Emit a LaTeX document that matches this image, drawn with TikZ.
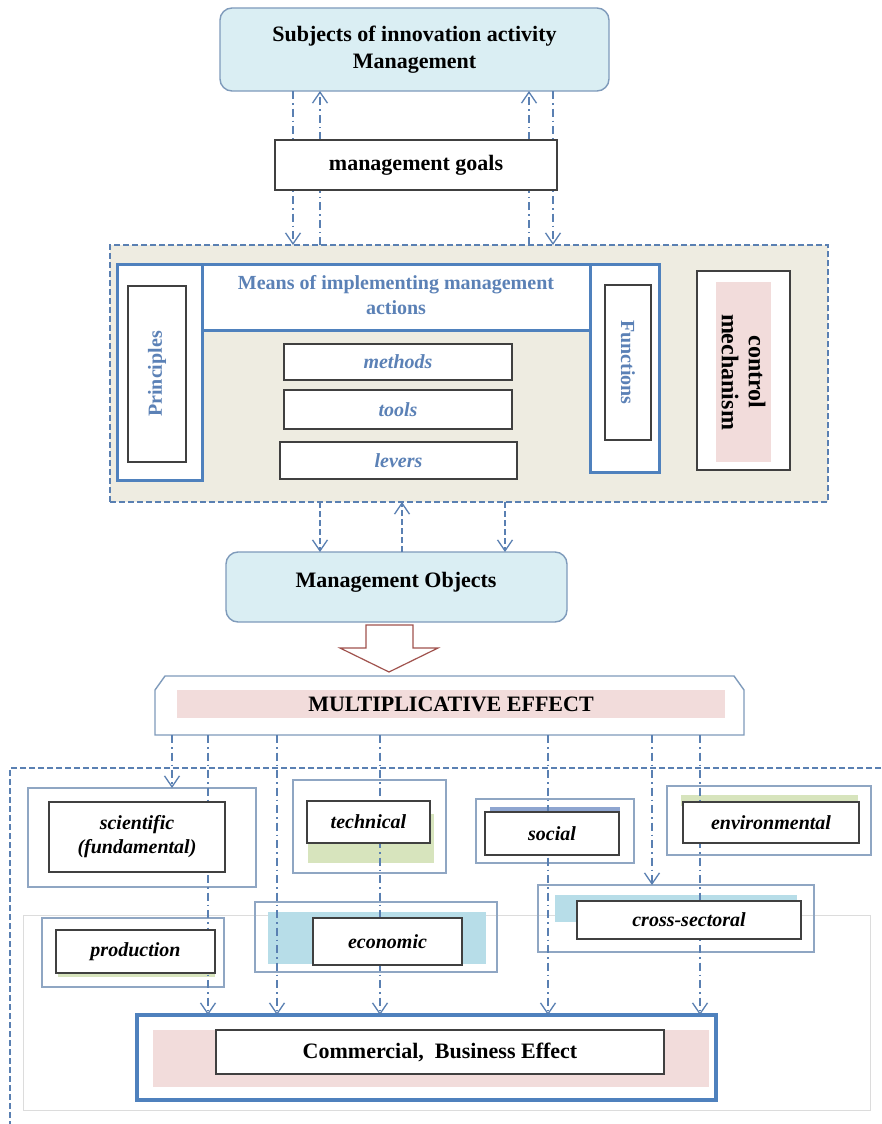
\documentclass[tikz,border=0pt]{standalone}
\usepackage{fontspec}
\setmainfont{Liberation Serif}
\usetikzlibrary{arrows.meta,calc}
\definecolor{arr}{HTML}{5A80B2}
\definecolor{thickblue}{HTML}{4F81BD}
\definecolor{framegray}{HTML}{8FA6C3}
\definecolor{innerk}{HTML}{404040}
\definecolor{lbfill}{HTML}{DAEEF3}
\definecolor{lbdraw}{HTML}{7F9BBB}
\definecolor{beige}{HTML}{EEECE1}
\definecolor{pinkf}{HTML}{F2DCDB}
\definecolor{greenf}{HTML}{D7E4BD}
\definecolor{bluebg}{HTML}{B7DDE8}
\definecolor{txtblue}{HTML}{5B81B6}
\definecolor{socstrip}{HTML}{8EA5D0}
\definecolor{brownred}{HTML}{A0524D}
\definecolor{lgray}{HTML}{DCDCDC}
\newcommand\rbox[7][]{\node[inner sep=0pt,outer sep=0pt,minimum width={#5pt-#3pt},minimum height={#6pt-#4pt},#1] (#2) at ({(#3+#5)/2},{(#4+#6)/2}) {#7};}
\begin{document}
\begin{tikzpicture}[x=1pt,y=-1pt,
  roundbox/.style={draw=lbdraw,line width=1.4pt,fill=lbfill,rounded corners=12pt},
  thickbox/.style={draw=thickblue,line width=3pt,fill=white},
  thinframe/.style={draw=framegray,line width=1.4pt},
  innerbox/.style={draw=innerk,line width=1.2pt,fill=white},
  dd/.style={draw=arr,line width=1.3pt,dash pattern=on 8pt off 4pt on 1.5pt off 4pt,-{Straight Barb[length=11pt,width=15pt,line width=1.3pt]}},
  dsh/.style={draw=arr,line width=1.3pt,dash pattern=on 6pt off 3pt,-{Straight Barb[length=11pt,width=15pt,line width=1.3pt]}},
  bt/.style={font=\bfseries\fontsize{22}{27}\selectfont,align=center},
  bi/.style={font=\bfseries\itshape\fontsize{20}{24}\selectfont,align=center},
  bluetxt/.style={text=txtblue,font=\bfseries\fontsize{20}{25}\selectfont,align=center},
]
\useasboundingbox (0,0) rectangle (881,1124);
\fill[white] (0,0) rectangle (881,1124);

% x-position helpers
\foreach \xx in {172,208,277,293,320,380,402,505,529,548,553,652,700}{\coordinate (c\xx) at (\xx,0);}

% lower dashed region and light gray box
\coordinate (dtl) at (10,768);
\coordinate (dtr) at (881,768);
\coordinate (dbl) at (10,1124);
\draw[arr,line width=1.3pt,dash pattern=on 6pt off 3pt] (dtr) -- (dtl) -- (dbl);
\rbox[draw=lgray,line width=1pt]{gray}{23}{915}{870}{1110}{}

% top box
\rbox[roundbox,bt]{subj}{220}{8}{609}{91}{Subjects of innovation activity\\Management}

% beige region
\rbox[draw=arr,line width=1.3pt,dash pattern=on 6pt off 3pt,fill=beige]{beige}{110}{245}{828}{502}{}

% top arrows (behind goals box)
\draw[dd] (subj.south -| c293) -- (beige.north -| c293);
\draw[dd] (beige.north -| c320) -- (subj.south -| c320);
\draw[dd] (beige.north -| c529) -- (subj.south -| c529);
\draw[dd] (subj.south -| c553) -- (beige.north -| c553);
\rbox[draw=innerk,line width=1.2pt,fill=white,bt]{goals}{275}{140}{557}{190}{management goals}

% contents of beige region
\rbox[thickbox]{princ}{117}{264}{202}{480}{}
\rbox[innerbox]{princin}{128}{286}{186}{462}{}
\node[bluetxt,rotate=90] at (princin.center) {Principles};
\rbox[thickbox]{func}{590}{264}{659}{472}{}
\rbox[innerbox]{funcin}{605}{285}{651}{440}{}
\node[bluetxt,rotate=-90] at (funcin.center) {Functions};
\rbox[thickbox]{means}{202}{264}{590}{330}{}
\node[bluetxt] at (396,295) {Means of implementing management\\actions};
\rbox[innerbox]{ctrl}{697}{271}{790}{470}{}
\rbox[fill=pinkf]{ctrlpink}{716}{282}{771}{462}{}
\node[rotate=-90,font=\bfseries\fontsize{24}{27}\selectfont,align=center] at (ctrlpink.center) {control\\mechanism};
\rbox[innerbox,bi,text=txtblue]{methods}{284}{344}{512}{380}{methods}
\rbox[innerbox,bi,text=txtblue]{tools}{284}{390}{512}{429}{tools}
\rbox[innerbox,bi,text=txtblue]{levers}{280}{442}{517}{479}{levers}

% management objects
\rbox[roundbox]{mobj}{226}{552}{567}{622}{}
\node[bt] at (396,582) {Management Objects};
\draw[dsh] (beige.south -| c320) -- (mobj.north -| c320);
\draw[dsh] (mobj.north -| c402) -- (beige.south -| c402);
\draw[dsh] (beige.south -| c505) -- (mobj.north -| c505);

% hollow arrow
\draw[brownred,line width=1.2pt,fill=white] (366,625) -- (366,648) -- (340,648) -- (389,672) -- (438,648) -- (413,648) -- (413,625) -- cycle;

% multiplicative effect
\rbox{mult}{155}{676}{744}{735}{}
\draw[draw=lbdraw,line width=1.4pt,fill=white] (mult.south west) -- ($(mult.north west)+(0,14)$) -- ($(mult.north west)+(10,0)$) -- ($(mult.north east)+(-10,0)$) -- ($(mult.north east)+(0,14)$) -- (mult.south east) -- cycle;
\rbox[fill=pinkf,bt]{multpink}{177}{690}{725}{718}{MULTIPLICATIVE EFFECT}

% lower outer frames and coloured backgrounds
\rbox[thinframe]{sciO}{28}{788}{256}{887}{}
\rbox[thinframe]{techO}{293}{780}{446}{873}{}
\rbox[fill=greenf]{techG}{308}{814}{434}{863}{}
\rbox[thinframe]{socO}{476}{799}{634}{863}{}
\rbox[fill=socstrip]{socS}{490}{807}{620}{815}{}
\rbox[thinframe]{envO}{667}{786}{871}{855}{}
\rbox[fill=greenf]{envG}{681}{795}{858}{806}{}
\rbox[thinframe]{crossO}{538}{885}{814}{952}{}
\rbox[fill=bluebg]{crossB}{555}{895}{797}{922}{}
\rbox[thinframe]{prodO}{42}{918}{224}{987}{}
\rbox[fill=greenf]{prodG}{58}{970}{215}{977}{}
\rbox[thinframe]{econO}{255}{902}{497}{972}{}
\rbox[fill=bluebg]{econB}{268}{912}{486}{964}{}

% commercial outer
\rbox[draw=thickblue,line width=3.5pt,fill=white]{comm}{137}{1015}{716}{1100}{}
\rbox[fill=pinkf]{commpink}{153}{1030}{709}{1087}{}

% lower arrows
\draw[dd] (mult.south -| c172) -- (sciO.north -| c172);
\draw[dd] (mult.south -| c208) -- (comm.north -| c208);
\draw[dd] (mult.south -| c277) -- (comm.north -| c277);
\draw[dd] (mult.south -| c380) -- (comm.north -| c380);
\draw[dd] (mult.south -| c548) -- (comm.north -| c548);
\draw[dd] (mult.south -| c652) -- (crossO.north -| c652);
\draw[dd] (mult.south -| c700) -- (comm.north -| c700);

% inner boxes
\rbox[innerbox,bi]{sci}{49}{802}{225}{872}{scientific\\(fundamental)}
\rbox[innerbox,bi]{tech}{307}{801}{430}{843}{technical}
\rbox[innerbox,bi]{soc}{485}{812}{619}{855}{social}
\rbox[innerbox,bi]{env}{683}{802}{859}{843}{environmental}
\rbox[innerbox,bi]{cross}{577}{901}{801}{939}{cross-sectoral}
\rbox[innerbox,bi]{prod}{56}{930}{215}{973}{production}
\rbox[innerbox,bi]{econ}{313}{918}{462}{965}{economic}
\rbox[innerbox,bt]{commin}{216}{1030}{664}{1074}{Commercial,\ \ Business Effect}
\end{tikzpicture}
\end{document}
